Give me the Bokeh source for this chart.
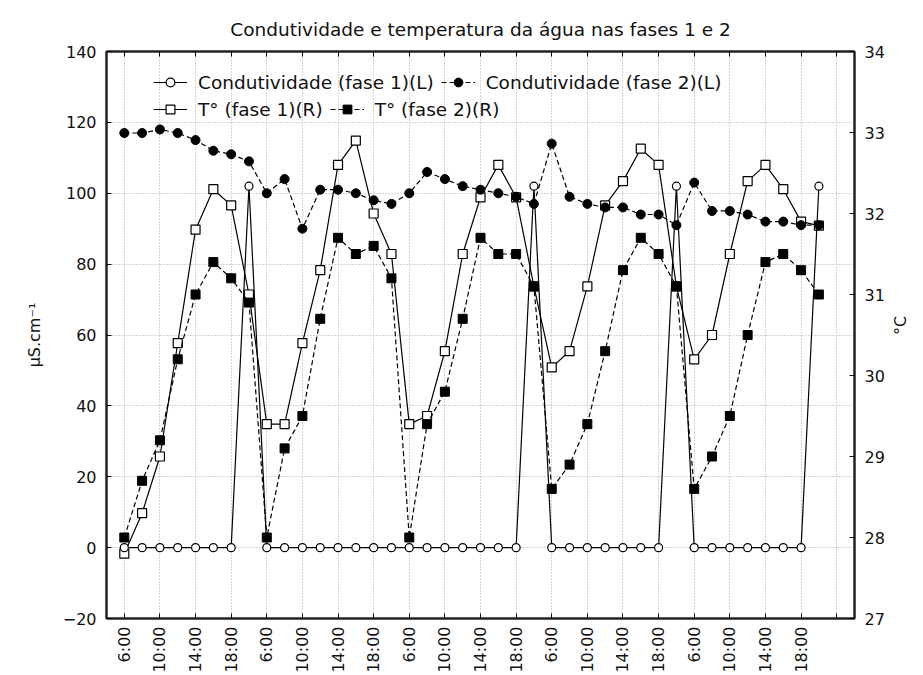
from bokeh.plotting import figure
from bokeh.models import Range1d, LinearAxis, FixedTicker, Legend, LegendItem
from bokeh.embed import file_html
from bokeh.resources import INLINE

# ---- data ----
title_text = "Condutividade e temperatura da água nas fases 1 e 2"
tick_labels = ["6:00", "10:00", "14:00", "18:00"] * 5

cond1 = [0, 0, 0, 0, 0, 0, 0, 102,
         0, 0, 0, 0, 0, 0, 0, 0,
         0, 0, 0, 0, 0, 0, 0, 102,
         0, 0, 0, 0, 0, 0, 0, 102,
         0, 0, 0, 0, 0, 0, 0, 102]
cond2 = [117, 117, 118, 117, 115, 112, 111, 109,
         100, 104, 90, 101, 101, 100, 98, 97,
         100, 106, 104, 102, 101, 100, 99, 97,
         114, 99, 97, 96, 96, 94, 94, 91,
         103, 95, 95, 94, 92, 92, 91, 91]
temp1 = [27.8, 28.3, 29.0, 30.4, 31.8, 32.3, 32.1, 31.0,
         29.4, 29.4, 30.4, 31.3, 32.6, 32.9, 32.0, 31.5,
         29.4, 29.5, 30.3, 31.5, 32.2, 32.6, 32.2, 31.1,
         30.1, 30.3, 31.1, 32.1, 32.4, 32.8, 32.6, 31.1,
         30.2, 30.5, 31.5, 32.4, 32.6, 32.3, 31.9, 31.85]
temp2 = [28.0, 28.7, 29.2, 30.2, 31.0, 31.4, 31.2, 30.9,
         28.0, 29.1, 29.5, 30.7, 31.7, 31.5, 31.6, 31.2,
         28.0, 29.4, 29.8, 30.7, 31.7, 31.5, 31.5, 31.1,
         28.6, 28.9, 29.4, 30.3, 31.3, 31.7, 31.5, 31.1,
         28.6, 29.0, 29.5, 30.5, 31.4, 31.5, 31.3, 31.0]
idx = list(range(len(cond1)))

left_ticks = [-20, 0, 20, 40, 60, 80, 100, 120, 140]
right_ticks = [27, 28, 29, 30, 31, 32, 33, 34]
x_ticks = list(range(0, 2 * len(tick_labels) + 1, 2))

FONT = "DejaVu Sans"
TXT = "#111111"
TICK_FS = "16px"

p = figure(width=923, height=675, output_backend="svg", toolbar_location=None,
           x_range=Range1d(-1, 41), y_range=Range1d(-20, 140),
           min_border_left=106, min_border_right=69,
           min_border_top=51, min_border_bottom=57)
p.extra_y_ranges = {"temp": Range1d(27, 34)}

p.title.text = title_text
p.title.align = "center"
p.title.text_font = FONT
p.title.text_font_style = "normal"
p.title.text_font_size = "18.5px"
p.title.text_color = TXT
p.title.standoff = 23
p.title.offset = -8

p.outline_line_color = "#222222"
p.outline_line_width = 2
p.background_fill_color = "white"
p.border_fill_color = "white"

# x axis
xa = p.xaxis[0]
xa.ticker = FixedTicker(ticks=x_ticks)
overrides = {x_ticks[k]: lbl for k, lbl in enumerate(tick_labels)}
overrides[x_ticks[-1]] = ""
xa.major_label_overrides = overrides
xa.major_label_orientation = 3.14159265 / 2
xa.major_tick_in = 5
xa.major_tick_out = 0
xa.minor_tick_line_color = None
xa.major_label_standoff = 8
xa.major_label_text_font = FONT
xa.major_label_text_font_size = TICK_FS
xa.major_label_text_color = TXT
xa.axis_line_color = "#222222"
xa.axis_line_width = 2

# left axis
ya = p.yaxis[0]
ya.ticker = FixedTicker(ticks=left_ticks)
ya.axis_label = "µS.cm⁻¹"
ya.axis_label_text_font = FONT
ya.axis_label_text_font_style = "normal"
ya.axis_label_text_font_size = "16px"
ya.axis_label_text_color = TXT
ya.axis_label_standoff = 16
ya.major_tick_in = 5
ya.major_tick_out = 0
ya.minor_tick_line_color = None
ya.major_label_standoff = 10
ya.major_label_text_font = FONT
ya.major_label_text_font_size = TICK_FS
ya.major_label_text_color = TXT
ya.axis_line_color = "#222222"
ya.axis_line_width = 2

# right axis
ra = LinearAxis(y_range_name="temp", ticker=FixedTicker(ticks=right_ticks), axis_label="°C")
ra.axis_label_text_font = FONT
ra.axis_label_text_font_style = "normal"
ra.axis_label_text_font_size = "16px"
ra.axis_label_text_color = TXT
ra.axis_label_orientation = 3.14159265 / 2
ra.axis_label_standoff = 13
ra.major_tick_in = 5
ra.major_tick_out = 0
ra.minor_tick_line_color = None
ra.major_label_standoff = 10
ra.major_label_text_font = FONT
ra.major_label_text_font_size = TICK_FS
ra.major_label_text_color = TXT
ra.axis_line_color = "#222222"
ra.axis_line_width = 2
p.add_layout(ra, "right")

# top axis (ticks only, labels not drawn)
ta = LinearAxis(ticker=FixedTicker(ticks=x_ticks))
ta.major_label_text_font_size = "1px"
ta.major_label_text_color = None
ta.major_label_text_alpha = 0
ta.major_label_standoff = 0
ta.major_tick_in = 5
ta.major_tick_out = 0
ta.minor_tick_line_color = None
ta.axis_line_color = "#222222"
ta.axis_line_width = 2
p.add_layout(ta, "above")

# grids
p.xgrid.ticker = FixedTicker(ticks=x_ticks)
p.ygrid.ticker = FixedTicker(ticks=left_ticks)
for g in (p.xgrid[0], p.ygrid[0]):
    g.grid_line_color = "#a8a8a8"
    g.grid_line_dash = "1 2"
    g.grid_line_width = 1

DASH = "5 3"
# series
l_t1 = p.line(idx, temp1, y_range_name="temp", line_color="black", line_width=1.2)
s_t1 = p.scatter(idx, temp1, y_range_name="temp", marker="square", size=9,
                 fill_color="white", line_color="black", line_width=1.2)
l_t2 = p.line(idx, temp2, y_range_name="temp", line_color="black", line_width=1.2, line_dash=DASH)
s_t2 = p.scatter(idx, temp2, y_range_name="temp", marker="square", size=9,
                 fill_color="black", line_color="black")
l_c2 = p.line(idx, cond2, line_color="black", line_width=1.2, line_dash=DASH)
s_c2 = p.scatter(idx, cond2, marker="circle", size=9, fill_color="black", line_color="black")
l_c1 = p.line(idx, cond1, line_color="black", line_width=1.2)
s_c1 = p.scatter(idx, cond1, marker="circle", size=8,
                 fill_color="white", line_color="black", line_width=1.2)


def make_legend(items, bottom):
    lg = Legend(items=items)
    lg.orientation = "horizontal"
    lg.location = (47, bottom)
    lg.padding = 0
    lg.margin = 0
    lg.spacing = 7
    lg.glyph_width = 34
    lg.glyph_height = 22
    lg.label_height = 22
    lg.label_standoff = 11
    lg.label_text_font = FONT
    lg.label_text_font_size = "18.5px"
    lg.label_text_color = TXT
    lg.background_fill_alpha = 0
    lg.border_line_alpha = 0
    return lg


leg1 = make_legend([
    LegendItem(label="Condutividade (fase 1)(L)", renderers=[l_c1, s_c1]),
    LegendItem(label="Condutividade (fase 2)(L)", renderers=[l_c2, s_c2]),
], 525)
leg2 = make_legend([
    LegendItem(label="T° (fase 1)(R)", renderers=[l_t1, s_t1]),
    LegendItem(label="T° (fase 2)(R)", renderers=[l_t2, s_t2]),
], 498)
p.add_layout(leg1)
p.add_layout(leg2)

open("out.html", "w").write(file_html(p, INLINE))
